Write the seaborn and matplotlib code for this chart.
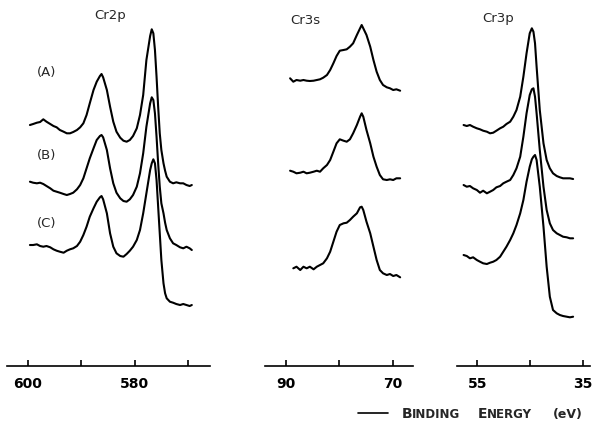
import matplotlib
matplotlib.use("Agg")
import matplotlib.pyplot as plt
import seaborn as sns

sns.set_style("white")
plt.rcParams["font.family"] = ["DejaVu Sans"]

# ---------------- data (binding energy in eV, intensity in arb. units) ----------------
# Cr 2p
cr2p_ev = [599.6, 599.0, 598.3, 597.7, 597.1, 596.5, 595.8, 595.2, 594.6, 594.0,
           593.3, 592.7, 592.1, 591.5, 590.8, 590.2, 589.6, 589.0, 588.4, 587.7,
           587.1, 586.5, 586.2, 585.9, 585.2, 584.6, 584.0, 583.4, 582.7, 582.1,
           581.5, 580.9, 580.3, 579.6, 579.0, 578.4, 577.8, 577.1, 576.8, 576.5,
           576.2, 575.9, 575.6, 575.3, 575.0, 574.6, 574.3, 574.0, 573.4, 572.8,
           572.2, 571.5, 570.9, 570.3, 569.7, 569.3]
cr2p_a = [241.0, 242.0, 243.3, 244.0, 246.7, 244.3, 242.0, 240.0, 238.7, 236.0,
          234.3, 232.7, 232.7, 234.0, 236.0, 238.7, 242.7, 251.0, 262.7, 276.0,
          284.3, 290.0, 292.0, 288.7, 276.0, 259.3, 244.3, 234.3, 228.3, 225.3,
          224.3, 226.0, 230.0, 237.7, 251.0, 271.0, 306.0, 330.0, 336.7, 332.7,
          316.0, 289.3, 259.3, 232.7, 216.0, 202.7, 195.3, 189.3, 184.3, 182.7,
          183.7, 182.7, 182.7, 181.0, 180.0, 181.0]
cr2p_b = [184.3, 183.3, 182.7, 183.3, 182.0, 180.0, 177.7, 175.3, 174.3, 173.3,
          172.0, 171.0, 172.0, 173.3, 176.7, 181.0, 187.7, 197.7, 207.7, 217.7,
          226.0, 230.0, 231.0, 228.7, 216.0, 197.7, 182.7, 173.3, 167.7, 165.0,
          164.3, 166.7, 171.0, 179.3, 192.7, 212.7, 239.3, 262.7, 268.7, 266.0,
          252.7, 229.3, 202.7, 179.3, 162.7, 152.7, 143.3, 136.0, 127.7, 122.7,
          121.0, 118.7, 117.7, 119.3, 117.7, 116.0]
cr2p_c = [121.0, 121.0, 121.7, 120.0, 119.3, 120.0, 118.7, 116.7, 115.3, 114.3,
          113.3, 115.3, 116.7, 117.7, 120.0, 124.3, 131.0, 139.3, 149.3, 157.7,
          164.3, 168.7, 170.0, 166.7, 152.7, 132.7, 119.3, 112.7, 110.0, 109.3,
          112.0, 115.3, 119.3, 126.0, 136.0, 152.7, 172.7, 196.0, 202.7, 206.7,
          202.7, 186.0, 159.3, 132.7, 106.0, 82.7, 72.7, 67.7, 64.3, 63.3,
          62.0, 61.0, 62.0, 61.0, 60.0, 61.0]

# Cr 3s
cr3s_ev = [89.2, 88.6, 88.0, 87.3, 86.7, 86.1, 85.5, 84.8, 84.2, 83.6,
           83.0, 82.3, 81.7, 81.1, 80.5, 79.9, 79.2, 78.6, 78.0, 77.4,
           76.7, 76.1, 75.8, 75.5, 74.9, 74.2, 73.6, 73.0, 72.4, 71.8,
           71.1, 70.5, 69.9, 69.3, 68.6]
cr3s_a = [287.7, 284.3, 286.0, 285.3, 286.0, 285.3, 285.0, 285.3, 286.0, 286.7,
          288.3, 291.0, 296.0, 302.7, 310.0, 315.3, 316.0, 316.7, 319.3, 322.7,
          331.0, 337.7, 341.0, 337.7, 331.0, 319.3, 306.0, 294.3, 286.0, 281.0,
          278.7, 277.7, 276.0, 276.7, 275.3]
cr3s_b = [195.3, 194.3, 192.7, 193.3, 194.3, 192.7, 193.3, 194.3, 195.3, 194.3,
          197.7, 201.0, 206.0, 214.3, 222.7, 226.7, 225.3, 224.3, 226.7, 232.7,
          241.0, 249.3, 252.7, 249.3, 236.0, 222.7, 209.3, 199.3, 191.0, 186.7,
          186.0, 186.7, 186.0, 187.7, 187.7]
cr3s_c = [None, 97.7, 99.3, 96.0, 99.3, 97.7, 99.3, 96.7, 99.3, 101.0,
          102.7, 107.7, 114.3, 124.3, 134.3, 141.0, 142.7, 143.3, 146.0, 149.3,
          152.7, 158.7, 159.3, 156.0, 144.3, 132.7, 119.3, 106.0, 96.0, 92.7,
          91.0, 92.0, 90.0, 91.0, 88.7]

# Cr 3p
cr3p_ev = [57.6, 57.0, 56.4, 55.8, 55.1, 54.5, 53.9, 53.2, 52.6, 52.0,
           51.4, 50.7, 50.1, 49.5, 48.8, 48.2, 47.6, 46.9, 46.3, 45.7,
           45.1, 44.7, 44.4, 44.1, 43.8, 43.2, 42.5, 41.9, 41.3, 40.7,
           40.0, 39.4, 38.8, 38.1, 37.5, 36.9]
cr3p_a = [241.0, 240.0, 241.0, 239.3, 237.7, 236.7, 235.3, 234.3, 232.7, 233.3,
          235.3, 237.7, 239.3, 242.0, 244.3, 249.3, 256.0, 269.3, 289.3, 312.7,
          332.7, 337.7, 334.3, 322.7, 299.3, 256.0, 222.7, 206.0, 197.7, 192.7,
          190.0, 188.7, 187.7, 187.7, 187.7, 187.0]
cr3p_b = [181.0, 179.3, 180.0, 177.7, 176.0, 173.3, 175.3, 172.7, 174.3, 176.0,
          178.7, 180.0, 182.7, 184.3, 186.0, 191.0, 197.7, 209.3, 229.3, 252.7,
          271.0, 276.7, 277.7, 269.3, 252.7, 216.0, 179.3, 156.0, 142.7, 136.0,
          132.7, 131.0, 129.3, 128.7, 127.7, 127.7]
cr3p_c = [111.0, 110.0, 107.7, 108.7, 106.0, 104.3, 102.7, 102.0, 103.3, 104.3,
          106.0, 109.3, 114.3, 119.3, 126.0, 132.7, 141.0, 152.7, 166.0, 184.3,
          199.3, 206.7, 209.3, 211.0, 206.0, 179.3, 139.3, 99.3, 69.3, 56.0,
          52.7, 51.0, 50.0, 49.3, 48.7, 49.3]

sample_labels = ["(A)", "(B)", "(C)"]
panel_titles = ["Cr2p", "Cr3s", "Cr3p"]
panel_ticks = [[600, 590, 580, 570], [90, 80, 70], [55, 45, 35]]
panel_ticklabels = [["600", "", "580", ""], ["90", "", "70"], ["55", "", "35"]]

panels = [
    (cr2p_ev, [cr2p_a, cr2p_b, cr2p_c]),
    (cr3s_ev, [cr3s_a, cr3s_b, cr3s_c]),
    (cr3p_ev, [cr3p_a, cr3p_b, cr3p_c]),
]

# ---------------- layout ----------------
W, H = 596, 421
fig = plt.figure(figsize=(5.96, 4.21), dpi=100)
boxes = [[0.0117, 0.1306, 0.3406, 0.8694],
         [0.4446, 0.1306, 0.2483, 0.8694],
         [0.7663, 0.1306, 0.2237, 0.8694]]
xlims = [(603.9, 565.9), (93.9, 66.2), (58.9, 33.7)]
title_pos = [(584.6, 351), (86.4, 346), (51.1, 348)]

for i, (ev, curves) in enumerate(panels):
    ax = fig.add_axes(boxes[i])
    for y in curves:
        pts = [(e, v) for e, v in zip(ev, y) if v is not None]
        sns.lineplot(x=[p[0] for p in pts], y=[p[1] for p in pts], ax=ax,
                     color="black", lw=1.5, sort=False, estimator=None)
    ax.set_xlim(*xlims[i])
    ax.set_ylim(0, 366)
    for s in ["top", "left", "right"]:
        ax.spines[s].set_visible(False)
    ax.spines["bottom"].set_color("black")
    ax.spines["bottom"].set_linewidth(1.2)
    ax.set_yticks([])
    ax.set_xticks(panel_ticks[i])
    ax.set_xticklabels(panel_ticklabels[i])
    ax.tick_params(axis="x", direction="in", length=4, width=1.2, pad=8,
                   labelsize=10, bottom=True, colors="black")
    for lab in ax.get_xticklabels():
        lab.set_fontweight("bold")
    ax.set_xlabel("")
    ax.set_ylabel("")
    ax.patch.set_alpha(0)
    ax.text(title_pos[i][0], title_pos[i][1], panel_titles[i], ha="center",
            va="center", fontsize=9.5)
    if i == 0:
        for lab, yy in zip(sample_labels, [294, 211, 143]):
            ax.text(596.4, yy, lab, ha="center", va="center", fontsize=9.5)

# x-axis caption in small caps
fig.add_artist(plt.Line2D([358 / W, 388 / W], [(H - 413) / H] * 2,
                          color="black", lw=1.2))
renderer = fig.canvas.get_renderer()
base_y = (H - 418) / H


def small_caps(x_px, word, big=10, small=8.5):
    x = x_px
    for piece, size in [(word[0], big), (word[1:], small)]:
        t = fig.text(x / W, base_y, piece, fontsize=size, fontweight="bold",
                     va="baseline", ha="left")
        x = t.get_window_extent(renderer).x1 - 1


small_caps(402, "BINDING")
small_caps(478, "ENERGY")
fig.text(553 / W, base_y, "(eV)", fontsize=9, fontweight="bold",
         va="baseline", ha="left")

fig.savefig("out.png", dpi=100)
